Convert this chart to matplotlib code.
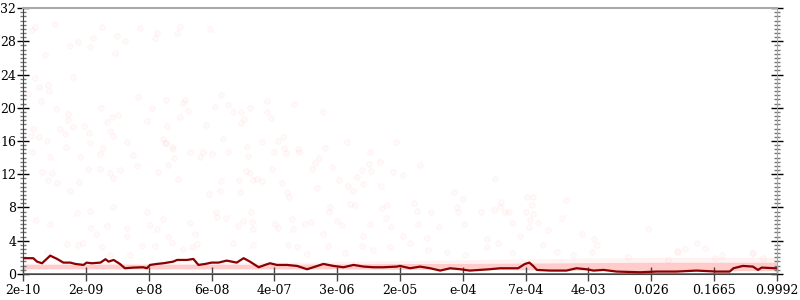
import numpy as np
import matplotlib.pyplot as plt
from matplotlib.ticker import MultipleLocator


# tick labels along x (evenly spaced positions 0..12)
x_labels = ['2e-10', '2e-09', 'e-08', '6e-08', '4e-07', '3e-06', '2e-05',
            'e-04', '7e-04', '4e-03', '0.026', '0.1665', '0.9992']

# scattered points (x in tick units, y value)
pts_x = [0.14, 0.19, 0.51, 0.35, 0.75, 0.88, 1.07, 1.11, 1.26, 1.50, 1.46, 1.62,
         1.86, 2.10, 2.13, 2.45, 2.50, 2.98, 0.19, 0.25, 0.40, 0.41, 0.08, 0.29,
         0.80, 0.53, 0.72, 1.24, 1.42, 1.51, 1.83, 2.05, 2.28, 2.58, 2.55, 2.63,
         2.50, 0.59, 0.16, 0.80, 0.72, 0.97, 0.67, 1.05, 1.34, 1.38, 1.43, 1.97,
         2.29, 2.23, 2.28, 2.37, 0.13, 0.25, 0.38, 0.68, 1.07, 1.27, 1.66, 3.15,
         3.06, 3.26, 3.34, 3.47, 3.61, 3.88, 3.88, 3.52, 3.95, 4.31, 4.77, 2.91,
         3.47,
         0.14, 0.43, 0.30, 0.46, 0.40, 0.54, 0.75, 0.91, 0.89, 1.03, 1.23, 1.23,
         1.38, 1.43, 1.54, 1.75, 1.81, 2.15, 2.31, 2.26, 2.39, 2.40, 2.47, 2.66,
         2.82, 2.86, 3.01, 2.96, 3.14, 3.15, 3.26, 3.18, 3.44, 3.45, 3.57, 3.58,
         3.55, 3.61, 3.66, 3.72, 3.80, 3.80, 3.96, 3.99, 4.06, 4.14, 4.15, 4.19,
         4.12, 4.20, 4.23, 4.38, 4.39, 4.65, 4.71, 4.60, 4.68, 4.81, 4.92, 5.03,
         5.16, 5.17, 5.25, 5.32, 5.40, 5.41, 5.51, 5.54, 5.52, 5.68, 5.70, 5.89,
         5.94,
         0.21, 0.43, 0.86, 1.07, 1.08, 1.16, 1.34, 1.43, 1.66, 1.65, 1.97, 2.02,
         2.13, 2.23, 2.31, 2.66, 2.74, 3.07, 3.09, 3.23, 3.42, 3.50, 3.63, 3.64,
         3.66, 4.01, 4.06, 4.28, 4.30, 4.49, 4.58, 4.89, 4.87, 5.00, 5.08, 5.20,
         5.28, 5.52, 5.71, 5.79, 5.78, 5.86, 5.41, 4.77,
         6.32, 6.05, 7.51, 6.86, 7.00, 6.22, 6.27, 6.49, 6.91, 6.92, 7.29, 7.50,
         7.59, 7.61, 7.67, 7.74, 8.02, 8.12, 8.10, 8.01, 8.11, 8.07, 8.64, 8.58,
         7.78, 8.20, 6.29, 7.02, 6.62, 8.06, 8.36, 7.91, 8.90, 9.95, 6.05, 6.43,
         7.39, 9.09,
         10.73, 10.54, 10.85, 10.41, 9.63, 10.27, 11.01, 11.60, 11.78,
         0.70, 0.88, 0.95, 1.26, 1.38, 1.70, 1.89, 2.10, 2.37, 2.55, 2.69, 2.77,
         0.38, 3.34, 3.66, 4.22, 4.36, 4.52, 4.85, 5.12, 5.39, 5.84, 5.57, 6.16,
         6.45, 6.75, 7.03, 7.38, 7.56, 7.79, 8.28, 8.50, 8.75, 9.06, 9.14, 10.42,
         11.13, 11.62]
pts_y = [29.4, 29.7, 30.1, 26.3, 27.4, 27.9, 27.3, 28.4, 29.7, 28.6, 26.6, 28.0,
         29.6, 28.4, 29.0, 29.0, 29.7, 29.5, 23.6, 22.5, 22.7, 22.0, 21.7, 20.8,
         23.7, 19.9, 19.2, 20.0, 18.9, 19.1, 21.3, 20.0, 20.9, 20.9, 20.6, 19.6,
         18.9, 17.4, 17.4, 17.7, 18.5, 17.8, 16.8, 17.0, 18.3, 17.2, 16.6, 18.4,
         17.8, 16.2, 15.8, 15.3, 16.6, 16.5, 16.0, 15.3, 15.8, 15.2, 15.9, 21.5,
         20.1, 20.3, 19.5, 19.5, 20.0, 20.8, 19.5, 18.6, 18.8, 20.5, 19.5, 17.9,
         18.2,
         14.7, 14.1, 12.3, 12.1, 11.3, 11.0, 10.0, 14.1, 11.1, 12.6, 14.4, 12.6,
         12.2, 11.5, 12.5, 14.3, 13.0, 12.3, 13.1, 15.8, 15.0, 14.0, 11.4, 14.7,
         14.1, 14.7, 14.4, 9.6, 10.0, 11.2, 14.7, 16.2, 11.3, 9.9, 15.3, 14.2,
         12.4, 12.2, 11.3, 11.4, 11.2, 15.9, 12.6, 14.7, 16.0, 16.5, 15.2, 14.5,
         11.0, 9.9, 9.3, 15.0, 14.7, 13.4, 14.0, 12.6, 10.3, 15.2, 12.9, 11.3,
         15.9, 10.6, 10.0, 11.7, 12.5, 10.8, 13.2, 12.4, 14.7, 13.5, 10.6, 12.3,
         15.9,
         6.5, 6.0, 7.3, 7.6, 5.5, 4.8, 5.8, 8.1, 5.5, 4.6, 7.5, 5.9,
         5.4, 6.6, 4.5, 6.1, 4.8, 7.5, 6.9, 6.7, 5.8, 6.4, 7.5, 6.3,
         5.4, 6.0, 5.5, 6.6, 5.4, 6.0, 6.3, 8.1, 7.5, 6.4, 5.9, 8.4,
         8.3, 6.0, 7.9, 8.3, 6.7, 5.7, 4.6, 4.8,
         13.1, 11.9, 11.4, 9.9, 9.0, 8.5, 7.6, 7.5, 8.1, 7.5, 7.5, 7.7,
         8.1, 8.7, 7.5, 7.5, 9.3, 9.3, 8.3, 7.5, 7.2, 6.5, 8.9, 6.7,
         6.1, 6.1, 6.0, 6.0, 5.7, 5.7, 5.3, 4.6, 4.8, 5.4, 4.6, 4.3,
         4.2, 4.2,
         3.7, 3.0, 3.1, 2.6, 2.0, 1.7, 1.9, 2.5, 1.9,
         3.6, 3.5, 3.7, 3.2, 2.3, 2.3, 3.4, 3.4, 3.7, 3.0, 3.2, 3.6,
         2.6, 3.7, 3.5, 3.5, 3.2, 2.4, 3.4, 2.5, 3.4, 3.2, 2.9, 3.7,
         2.9, 2.6, 2.3, 3.2, 3.7, 2.5, 3.5, 2.6, 2.3, 2.6, 3.5, 2.8,
         2.3, 2.5]

# dense band of points near 1 (lower / upper edge at each tick)
band_x = [0, 1, 2, 3, 4, 5, 6, 7, 8, 9, 10, 11, 12]
band_lo = [0.6, 0.6, 0.6, 0.6, 0.6, 0.6, 0.55, 0.55, 0.5, 0.45, 0.4, 0.4, 0.4]
band_hi = [1.15, 1.15, 1.15, 1.15, 1.15, 1.2, 1.25, 1.25, 1.3, 1.35, 1.4, 1.4, 1.4]
halo_hi = [1.3, 1.3, 1.3, 1.3, 1.4, 1.5, 1.6, 1.7, 1.8, 1.9, 2.0, 2.0, 2.0]

# running mean line
line_x = [0.0, 0.16, 0.22, 0.30, 0.43, 0.54, 0.64, 0.75, 0.83, 0.96, 1.01, 1.09,
          1.23, 1.31, 1.36, 1.44, 1.54, 1.62, 1.76, 1.91, 1.97, 2.02, 2.13, 2.23,
          2.39, 2.45, 2.61, 2.71, 2.79, 2.90, 3.00, 3.11, 3.24, 3.40, 3.51, 3.61,
          3.75, 3.85, 3.93, 4.04, 4.20, 4.36, 4.52, 4.62, 4.78, 4.94, 5.10, 5.26,
          5.42, 5.58, 5.73, 5.95, 6.00, 6.16, 6.32, 6.48, 6.64, 6.80, 6.96, 7.11,
          7.27, 7.43, 7.59, 7.75, 7.88, 7.99, 8.06, 8.12, 8.18, 8.39, 8.65, 8.81,
          8.97, 9.08, 9.24, 9.45, 9.82, 10.09, 10.40, 10.72, 11.04, 11.25, 11.31,
          11.46, 11.62, 11.70, 11.76, 11.97, 12.0]
line_y = [1.89, 1.89, 1.48, 1.28, 2.2, 1.8, 1.36, 1.36, 1.2, 1.08, 1.36, 1.28,
          1.36, 1.77, 1.48, 1.68, 1.2, 0.68, 0.76, 0.8, 0.68, 1.08, 1.2, 1.28,
          1.48, 1.68, 1.68, 1.8, 1.08, 1.2, 1.36, 1.36, 1.6, 1.36, 1.89, 1.48,
          0.8, 1.08, 1.28, 1.08, 1.08, 0.96, 0.56, 0.8, 1.2, 0.96, 0.8, 1.08,
          0.88, 0.8, 0.8, 0.88, 0.96, 0.68, 0.88, 0.68, 0.4, 0.68, 0.56, 0.4,
          0.48, 0.56, 0.68, 0.68, 0.68, 1.2, 1.36, 0.96, 0.48, 0.4, 0.4, 0.68,
          0.56, 0.4, 0.48, 0.28, 0.2, 0.28, 0.28, 0.4, 0.28, 0.28, 0.68,
          0.96, 0.88, 0.48, 0.76, 0.68, 0.68]


plt.rcParams['font.family'] = 'DejaVu Serif'
fig = plt.figure(figsize=(8, 3), dpi=100)
ax = fig.add_axes([0.029, 0.087, 0.942, 0.886])

ax.fill_between(band_x, band_lo, halo_hi, color='#ff3030', alpha=0.06, lw=0)
ax.fill_between(band_x, band_lo, band_hi, color='#ff3030', alpha=0.2, lw=0)
ax.scatter(pts_x, pts_y, s=16, facecolor=(1, 0.3, 0.3, 0.025),
           edgecolor=(1, 0.3, 0.3, 0.05), linewidths=0.8)
ax.axhline(0, color='#e83030', lw=2, zorder=3)
ax.plot(line_x, line_y, color='#8b0000', lw=1.6, zorder=4)

ax.set_xlim(0, 12)
ax.set_ylim(0, 32)
ax.set_xticks(range(len(x_labels)))
ax.set_xticklabels(x_labels)
ax.yaxis.set_major_locator(MultipleLocator(4))
ax.yaxis.set_minor_locator(MultipleLocator(0.5))

ax.tick_params(axis='x', direction='inout', length=10, width=1, color='#444444',
               labelsize=9, pad=2)
ax.tick_params(axis='y', which='major', direction='inout', length=8, width=1,
               color='black', labelsize=9, pad=1, right=True)
ax.tick_params(axis='y', which='minor', direction='inout', length=5, width=1,
               color='#777777', right=True)

ax.spines['top'].set_color('#aaaaaa')
ax.spines['top'].set_linewidth(1.5)
ax.spines['right'].set_color('#aaaaaa')
ax.spines['left'].set_color('#444444')
ax.spines['bottom'].set_color('#444444')

plt.savefig('out.png', dpi=100)
